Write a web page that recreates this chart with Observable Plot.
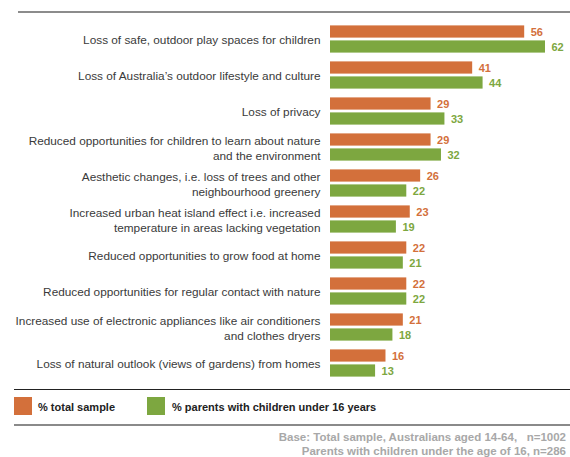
<!DOCTYPE html>
<html>
<head>
<meta charset="utf-8">
<script src="https://cdn.jsdelivr.net/npm/d3@7"></script>
<script src="https://cdn.jsdelivr.net/npm/@observablehq/plot@0.6"></script>
<style>
  body { margin: 0; background: #fff; font-family: "Liberation Sans", Arial, Helvetica, sans-serif; }
  #wrap { position: relative; width: 570px; height: 457px; overflow: hidden; }
  #topline { position: absolute; left: 18px; top: 11px; width: 552px; height: 2px; background: #8c8c8c; }
  #chart { position: absolute; left: 0; top: 13px; }
  #legline { position: absolute; left: 14px; top: 389px; width: 556px; height: 1px; background: #222; }
  .sw { position: absolute; top: 397px; width: 18px; height: 18px; }
  .lt { position: absolute; top: 400px; font-size: 11px; font-weight: bold; color: #222; white-space: nowrap; line-height: 14px; }
  #botline { position: absolute; left: 14px; top: 424px; width: 556px; height: 2px; background: #8a8a8a; }
  .fn { position: absolute; right: 4px; font-size: 11.5px; font-weight: bold; color: #a8a8a8; white-space: pre; line-height: 13px; }
</style>
</head>
<body>
<div id="wrap">
  <div id="topline"></div>
  <div id="chart"></div>
  <div id="legline"></div>
  <div id="legend"></div>
  <div id="botline"></div>
  <div id="foot"></div>
</div>
<script>
const categories = [
  "Loss of safe, outdoor play spaces for children",
  "Loss of Australia\u2019s outdoor lifestyle and culture",
  "Loss of privacy",
  "Reduced opportunities for children to learn about nature\nand the environment",
  "Aesthetic changes, i.e. loss of trees and other\nneighbourhood greenery",
  "Increased urban heat island effect i.e. increased\ntemperature in areas lacking vegetation",
  "Reduced opportunities to grow food at home",
  "Reduced opportunities for regular contact with nature",
  "Increased use of electronic appliances like air conditioners\nand clothes dryers",
  "Loss of natural outlook (views of gardens) from homes"
];
const totalSample = [56, 41, 29, 29, 26, 23, 22, 22, 21, 16];
const parentsU16 = [62, 44, 33, 32, 22, 19, 21, 22, 18, 13];
const seriesNames = ["% total sample", "% parents with children under 16 years"];
const seriesColors = ["#D3703B", "#7DA740"];
const footnotes = [
  "Base: Total sample, Australians aged 14-64,   n=1002",
  "Parents with children under the age of 16, n=286"
];

const totalRows = categories.map((c, i) => ({category: c, value: totalSample[i]}));
const parentRows = categories.map((c, i) => ({category: c, value: parentsU16[i]}));

const plot = Plot.plot({
  width: 570,
  height: 376,
  marginLeft: 330,
  marginRight: 25,
  marginTop: 5.6,
  marginBottom: 4.6,
  x: {domain: [0, 62], axis: null},
  y: {domain: categories, padding: 0, label: null},
  marks: [
    Plot.barX(totalRows, {y: "category", x: "value", fill: seriesColors[0], insetTop: 4.4, insetBottom: 19.4}),
    Plot.barX(parentRows, {y: "category", x: "value", fill: seriesColors[1], insetTop: 19.4, insetBottom: 4.4}),
    Plot.text(totalRows, {y: "category", x: "value", text: d => String(d.value), dx: 6, dy: -7.5, textAnchor: "start", fill: seriesColors[0], fontWeight: "bold", fontSize: 11}),
    Plot.text(parentRows, {y: "category", x: "value", text: d => String(d.value), dx: 6, dy: 7.5, textAnchor: "start", fill: seriesColors[1], fontWeight: "bold", fontSize: 11}),
    Plot.axisY({tickSize: 0, tickPadding: 10, fontSize: 11.8, lineHeight: 1.25, fill: "#3a3a3a", label: null})
  ],
  style: {fontFamily: "'Liberation Sans', Arial, Helvetica, sans-serif", background: "#fff"}
});
document.getElementById("chart").appendChild(plot);

const legend = document.getElementById("legend");
const swX = [14, 147];
const txX = [38, 172];
seriesNames.forEach((n, i) => {
  const s = document.createElement("div");
  s.className = "sw"; s.style.left = swX[i] + "px"; s.style.background = seriesColors[i];
  legend.appendChild(s);
  const t = document.createElement("div");
  t.className = "lt"; t.style.left = txX[i] + "px"; t.textContent = n;
  legend.appendChild(t);
});
const foot = document.getElementById("foot");
footnotes.forEach((f, i) => {
  const d = document.createElement("div");
  d.className = "fn"; d.style.top = (431 + i * 14) + "px"; d.textContent = f;
  foot.appendChild(d);
});
</script>
</body>
</html>
